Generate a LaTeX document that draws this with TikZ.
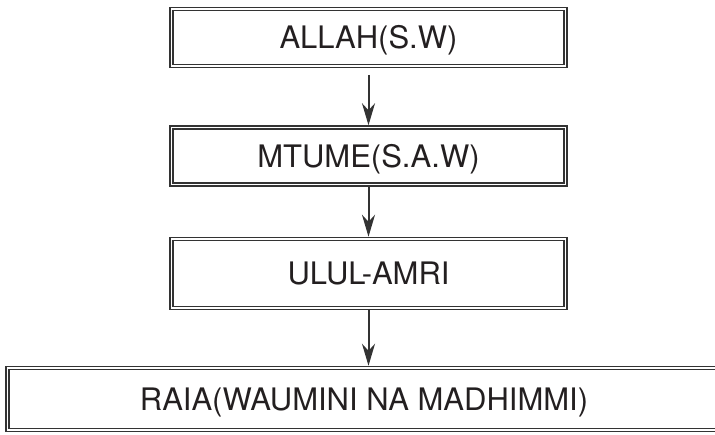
\documentclass[tikz,border=0pt]{standalone}
\usepackage{fontspec}
\setmainfont{TeX Gyre Heros}
\usepackage{tikz}
\usetikzlibrary{arrows.meta,positioning}
\definecolor{rahmen}{HTML}{333333}
\definecolor{schrift}{HTML}{231F20}
\tikzset{
  ebene/.style={draw=rahmen,double=white,line width=1.5pt,double distance=1.8pt,
    fill=white,text=schrift,font=\fontsize{31}{36}\selectfont,
    minimum width=394pt,minimum height=57pt,inner sep=0pt,
    text height=22.5pt,text depth=0pt},
  pfeil/.style={draw=rahmen,line width=2pt,-{Stealth[length=22pt,width=13pt,inset=7pt]}}
}
\begin{document}
\begin{tikzpicture}[x=1pt,y=-1pt]
%Bild ist 715 x 434, y zaehlt nach unten
  \pgfmathsetmacro{\mitte}{368.5}
  \useasboundingbox (0,0) rectangle (715,434);
  \node[ebene] (allah) at (\mitte,37.5) {ALLAH(S.W)};
  \node[ebene] (mtume) at (\mitte,156) {MTUME(S.A.W)};
  \node[ebene,minimum height=69pt] (ulul) at (\mitte,273.5) {ULUL-AMRI};
%die unterste Ebene geht ueber den rechten Rand hinaus
  \node[ebene,minimum width=713pt,minimum height=62pt] (raia) at (364,399) {RAIA(WAUMINI NA MADHIMMI)};
  \draw[pfeil,shorten <=8pt,shorten >=1.5pt] (allah) -- (mtume);
  \draw[pfeil,shorten >=1.5pt] (mtume) -- (ulul);
  \draw[pfeil,shorten >=1.5pt] (ulul) -- (ulul|-raia.north);
\end{tikzpicture}
\end{document}
